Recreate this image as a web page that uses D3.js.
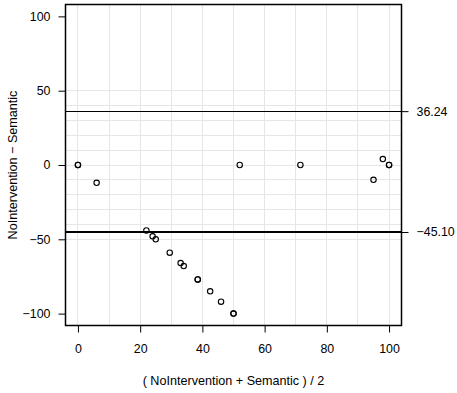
<!DOCTYPE html>
<html>
<head>
<meta charset="utf-8">
<script src="https://cdn.jsdelivr.net/npm/d3@7"></script>
<style>
  html, body { margin: 0; padding: 0; background: #fff; }
  text { font-family: "Liberation Sans", Arial, Helvetica, sans-serif; }
</style>
</head>
<body>
<svg id="chart" width="457" height="393"></svg>
<script>
// Data (Bland-Altman: mean of the two vs difference)
const meanVals = [0, 0, 6, 22, 24, 25, 29.5, 33, 34, 38.5, 38.5, 42.5, 46, 50, 50, 52, 71.5, 95, 98, 100, 100];
const diffVals = [0, 0, -12, -44, -48, -50, -59, -66, -68, -77, -77, -85, -92, -100, -100, 0, 0, -10, 4, 0, 0];
const limitVals = [36.24, -45.10];
const limitLabels = ["36.24", "\u221245.10"];
const xTicks = [0, 20, 40, 60, 80, 100];
const yTicks = [100, 50, 0, -50, -100];
const xGrid = [0, 10, 20, 30, 40, 50, 60, 70, 80, 90, 100];
const yGrid = [-50, -40, -30, -20, -10, 0, 10, 20, 30, 40, 50];
const xLabel = "( NoIntervention + Semantic ) / 2";
const yLabel = "NoIntervention \u2212 Semantic";

const svg = d3.select("#chart");
const L = 65.5, R = 401.5, T = 4.5, B = 325.5;

const x = d3.scaleLinear().domain([-4, 104]).range([L, R]);
const y = d3.scaleLinear().domain([-108, 108]).range([B, T]);

// grid
svg.append("g").selectAll("line").data(xGrid).join("line")
  .attr("x1", d => x(d)).attr("x2", d => x(d))
  .attr("y1", T).attr("y2", B)
  .attr("stroke", "#e6e6e6").attr("stroke-width", 1).attr("shape-rendering", "crispEdges");
svg.append("g").selectAll("line").data(yGrid).join("line")
  .attr("x1", L).attr("x2", R)
  .attr("y1", d => y(d)).attr("y2", d => y(d))
  .attr("stroke", "#e6e6e6").attr("stroke-width", 1).attr("shape-rendering", "crispEdges");

// limit lines
const lw = [1, 2];
svg.append("g").selectAll("line").data(limitVals).join("line")
  .attr("x1", L).attr("x2", R)
  .attr("y1", d => y(d)).attr("y2", d => y(d))
  .attr("stroke", "#000").attr("stroke-width", (d, i) => lw[i]).attr("shape-rendering", "crispEdges");

// points
svg.append("g").selectAll("circle").data(meanVals.map((m, i) => [m, diffVals[i]])).join("circle")
  .attr("cx", d => x(d[0])).attr("cy", d => y(d[1]))
  .attr("r", 2.7)
  .attr("fill", "none").attr("stroke", "#000").attr("stroke-width", 1.1);

// box
svg.append("rect").attr("x", L).attr("y", T).attr("width", R - L).attr("height", B - T)
  .attr("fill", "none").attr("stroke", "#000").attr("stroke-width", 1.5);

// axes
const ax = svg.append("g").attr("transform", `translate(0,${B})`)
  .call(d3.axisBottom(x).tickValues(xTicks).tickSize(7).tickPadding(12).tickFormat(d3.format("d")));
ax.select(".domain").remove();
ax.selectAll("text").attr("font-size", 12.4).attr("fill", "#000");
ax.selectAll("line").attr("stroke", "#000");

const ay = svg.append("g").attr("transform", `translate(${L},0)`)
  .call(d3.axisLeft(y).tickValues(yTicks).tickSize(7).tickPadding(8)
        .tickFormat(d => d < 0 ? "\u2212" + Math.abs(d) : String(d)));
ay.select(".domain").remove();
ay.selectAll("text").attr("font-size", 12.4).attr("fill", "#000");
ay.selectAll("line").attr("stroke", "#000");

const ar = svg.append("g").attr("transform", `translate(${R},0)`)
  .call(d3.axisRight(y).tickValues(limitVals).tickSize(7).tickPadding(8)
        .tickFormat((d, i) => limitLabels[i]));
ar.select(".domain").remove();
ar.selectAll("text").attr("font-size", 12.4).attr("fill", "#000");
ar.selectAll("line").attr("stroke", "#000");

// axis titles
svg.append("text").attr("x", (L + R) / 2).attr("y", 385)
  .attr("text-anchor", "middle").attr("font-size", 12.6).text(xLabel);
svg.append("text").attr("transform", `translate(17,${(T + B) / 2}) rotate(-90)`)
  .attr("text-anchor", "middle").attr("font-size", 12.6).text(yLabel);
</script>
</body>
</html>
